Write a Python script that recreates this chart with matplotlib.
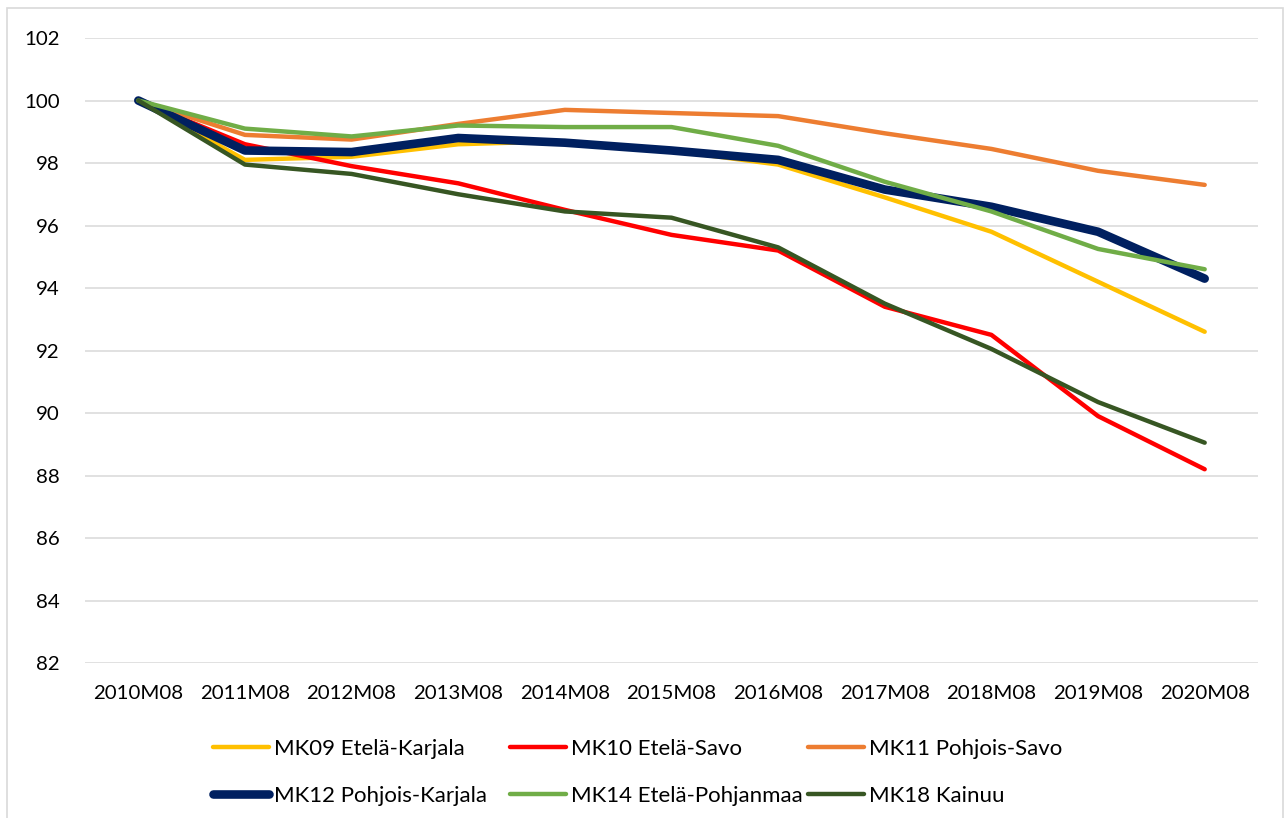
import matplotlib
matplotlib.use('Agg')
import matplotlib.pyplot as plt
from matplotlib.patches import Rectangle

plt.rcParams['font.family'] = ['Lato', 'DejaVu Sans']

years = ['2010M08', '2011M08', '2012M08', '2013M08', '2014M08', '2015M08',
         '2016M08', '2017M08', '2018M08', '2019M08', '2020M08']

mk09 = [100, 98.1, 98.2, 98.6, 98.7, 98.4, 97.95, 96.9, 95.8, 94.2, 92.6]
mk10 = [100, 98.6, 97.9, 97.35, 96.5, 95.7, 95.2, 93.4, 92.5, 89.9, 88.2]
mk11 = [100, 98.9, 98.75, 99.25, 99.7, 99.6, 99.5, 98.95, 98.45, 97.75, 97.3]
mk12 = [100, 98.4, 98.35, 98.8, 98.65, 98.4, 98.1, 97.15, 96.6, 95.8, 94.3]
mk14 = [100, 99.1, 98.85, 99.2, 99.15, 99.15, 98.55, 97.4, 96.45, 95.25, 94.6]
mk18 = [100, 97.95, 97.65, 97.0, 96.45, 96.25, 95.3, 93.5, 92.05, 90.35, 89.05]

series = [
    ('MK09 Etelä-Karjala', mk09, '#FFC000', 3.2),
    ('MK10 Etelä-Savo', mk10, '#FF0000', 3.2),
    ('MK11 Pohjois-Savo', mk11, '#ED7D31', 3.2),
    ('MK12 Pohjois-Karjala', mk12, '#002060', 6.2),
    ('MK14 Etelä-Pohjanmaa', mk14, '#70AD47', 3.2),
    ('MK18 Kainuu', mk18, '#375623', 3.2),
]

W, H = 1286, 818
fig = plt.figure(figsize=(W / 100, H / 100), dpi=100)
ax = fig.add_axes([85 / W, 1 - 663 / H, (1258 - 85) / W, (663 - 38) / H])

x = list(range(len(years)))
handles = []
for label, vals, color, lw in series:
    ln, = ax.plot(x, vals, color=color, lw=lw, label=label,
                  solid_capstyle='round', solid_joinstyle='round')
    handles.append(ln)

ax.set_xlim(-0.5, len(years) - 0.5)
ax.set_ylim(82, 102)
ax.set_yticks(range(82, 103, 2))
ax.set_xticks(x)
ax.set_xticklabels(years)
ax.grid(axis='y', color='#D9D9D9', lw=1.1)
ax.set_axisbelow(True)
for s in ax.spines.values():
    s.set_visible(False)
ax.tick_params(axis='both', length=0, labelsize=14.7, colors='black')
ax.tick_params(axis='y', pad=18)
ax.tick_params(axis='x', pad=16)

# legend: three columns placed like the original
col_x = [213, 510, 808]
for j in range(3):
    leg = fig.legend(handles=[handles[j], handles[j + 3]],
                     loc='upper left', bbox_to_anchor=(col_x[j] / W, 1 - 739 / H),
                     frameon=False, fontsize=16, handlelength=2.5,
                     handletextpad=0.26, labelspacing=1.22, borderpad=0,
                     borderaxespad=0)

fig.add_artist(Rectangle((7 / W, -0.02), (1283 - 7) / W, 1.02 - 8 / H,
                         transform=fig.transFigure, fill=False,
                         edgecolor='#D9D9D9', lw=1.2))

fig.savefig('out.png', dpi=100)
